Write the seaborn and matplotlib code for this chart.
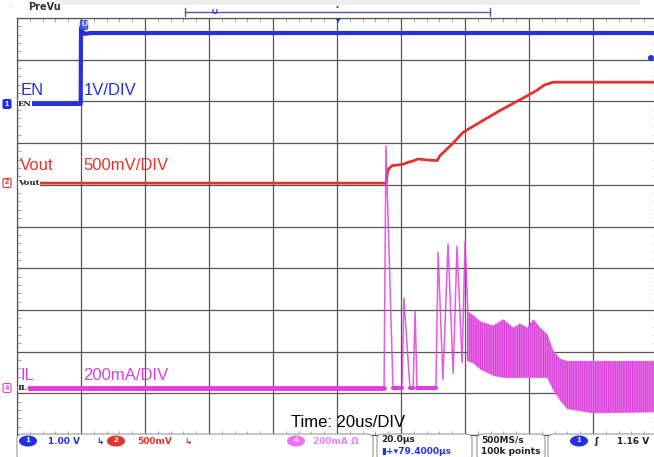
import matplotlib.pyplot as plt
import pandas as pd
import seaborn as sns
from matplotlib.patches import FancyBboxPatch, Ellipse, Rectangle

# Scope capture: EN, Vout and IL at start-up, 20us/DIV
# time in us, EN in V, Vout in V, IL in A
en_t = [0, 19.9, 20.0, 20.3, 21.0, 23.0, 200]
en_v = [0, 0, 1.82, 1.75, 1.68, 1.70, 1.70]

vout_t = [0, 115.3, 115.9, 117.2, 119.7, 120.9, 122.2, 124.1, 125.3, 127.5,
          131.3, 132.2, 134.1, 136.3, 139.4, 144.7, 150.9, 157.2, 161.9,
          165.0, 167.5, 175.9, 200]
vout_v = [0, 0, 0.16, 0.21, 0.22, 0.23, 0.25, 0.27, 0.29, 0.28,
          0.27, 0.33, 0.40, 0.48, 0.61, 0.73, 0.87, 1.00, 1.10,
          1.18, 1.21, 1.21, 1.21]

il_t = [0, 114.7, 115.3, 117.5, 120.3, 120.9, 122.8, 123.8, 124.4, 125.0,
        130.9, 131.6, 133.1, 134.7, 136.3, 137.5, 139.1, 140.0, 140.9]
il_a = [0, 0, 1.16, 0, 0, 0.43, 0, 0, 0.37, 0,
        0, 0.65, 0.04, 0.69, 0.07, 0.68, 0.12, 0.70, 0.37]

# switching band of IL (envelope of the ripple)
band_t = [140.6, 142.5, 144.7, 148.7, 151.9, 155.0, 157.2, 159.4, 161.3,
          163.4, 165.6, 167.5, 169.7, 171.9, 180.0, 200.0]
band_hi = [0.37, 0.35, 0.32, 0.30, 0.33, 0.29, 0.31, 0.29, 0.33,
           0.29, 0.26, 0.18, 0.14, 0.13, 0.13, 0.13]
band_lo = [0.13, 0.12, 0.09, 0.06, 0.05, 0.05, 0.05, 0.05, 0.05,
           0.05, 0.05, -0.01, -0.06, -0.10, -0.12, -0.115]

# channel settings: (zero position in divisions, units per division)
channels = {
    "EN": (7.94, 1.0),
    "Vout": (6.04, 0.5),
    "IL": (1.13, 0.2),
}

BLUE = "#2430e0"
RED = "#e4332f"
MAG = "#e03ee0"
GRID = "#555555"

W, H = 654, 457


def fx(x):
    return x / W


def fy(y):
    return 1 - y / H


def to_div(name, vals):
    off, scale = channels[name]
    return [off + v / scale for v in vals]


sns.set_style("white")
plt.rcParams["font.family"] = ["Liberation Sans", "DejaVu Sans"]
plt.rcParams["hatch.linewidth"] = 0.7

fig = plt.figure(figsize=(6.54, 4.57), dpi=100)
ax = fig.add_axes([fx(17), fy(435), 640 / W, 417 / H])

df_en = pd.DataFrame({"t": en_t, "div": to_div("EN", en_v)})
df_vout = pd.DataFrame({"t": vout_t, "div": to_div("Vout", vout_v)})
df_il = pd.DataFrame({"t": il_t, "div": to_div("IL", il_a)})

sns.lineplot(data=df_en, x="t", y="div", ax=ax, color=BLUE, lw=3.0,
             sort=False, estimator=None, zorder=4)
sns.lineplot(data=df_vout, x="t", y="div", ax=ax, color=RED, lw=2.0,
             sort=False, estimator=None, zorder=4)

ax.fill_between(band_t, to_div("IL", band_lo), to_div("IL", band_hi),
                color="#ee7aee", linewidth=0, zorder=3)
ax.fill_between(band_t, to_div("IL", band_lo), to_div("IL", band_hi),
                facecolor="none", edgecolor="#d43ad4",
                hatch="|||||||||", linewidth=0, zorder=3)
sns.lineplot(data=df_il, x="t", y="div", ax=ax, color=MAG, lw=1.1,
             sort=False, estimator=None, zorder=4, alpha=0.85)
# thick flat baseline before switching starts
base = df_il[df_il["t"] <= 114.7]
ax.plot(base["t"], base["div"], color=MAG, lw=3.5, zorder=4)
for a, b in [(117.5, 120.3), (122.8, 123.8), (125.0, 130.9)]:
    ax.plot([a, b], to_div("IL", [0, 0]), color=MAG, lw=3.0, zorder=4)

ax.set_xlim(0, 200)
ax.set_ylim(0, 10)
ax.set_xticks(range(0, 201, 20))
ax.set_yticks(range(11))
ax.set_xticks([x * 4 for x in range(51)], minor=True)
ax.set_yticks([y * 0.2 for y in range(51)], minor=True)
ax.grid(True, which="major", color=GRID, lw=0.9)
ax.tick_params(which="major", length=0, labelbottom=False, labelleft=False)
ax.tick_params(which="minor", direction="in", length=3, color="#999999",
               top=True, bottom=True, left=True, right=True,
               labelbottom=False, labelleft=False)
ax.set_xlabel("")
ax.set_ylabel("")
for s in ax.spines.values():
    s.set_color(GRID)
    s.set_linewidth(0.9)

# channel captions
big = dict(fontsize=12, va="center", ha="left", zorder=6)
ax.text(1.0, 8.25, "EN", color=BLUE, **big)
ax.text(20.8, 8.25, "1V/DIV", color=BLUE, **big)
ax.text(1.0, 6.47, "Vout", color=RED, **big)
ax.text(20.8, 6.47, "500mV/DIV", color=RED, **big)
ax.text(1.0, 1.43, "IL", color=MAG, **big)
ax.text(20.8, 1.43, "200mA/DIV", color=MAG, **big)
ax.text(85.5, 0.3, "Time: 20us/DIV", color="black", fontsize=12,
        va="center", ha="left", zorder=6)

# small trace labels at left edge
small = dict(fontsize=6, va="center", ha="left", color="#222222", zorder=7,
             fontweight="bold", family="DejaVu Serif",
             bbox=dict(boxstyle="square,pad=0.05", fc="white", ec="none"))
ax.text(0.3, 7.94, "EN", **small)
ax.text(0.3, 6.04, "Vout", **small)
ax.text(0.3, 1.13, "IL", **small)

# left channel markers
for y, c, n, filled in [(104, BLUE, "1", True), (183, RED, "2", False),
                        (388, MAG, "4", False)]:
    fig.patches.append(FancyBboxPatch(
        (fx(3), fy(y + 4.5)), 8 / W, 9 / H,
        boxstyle="round,pad=0,rounding_size=0.003",
        transform=fig.transFigure, fc=c if filled else "white",
        ec=c, lw=0.8))
    fig.text(fx(7), fy(y), n, color="white" if filled else c, fontsize=5.5,
             ha="center", va="center", fontweight="bold")

# top: PreVu strip
fig.patches.append(Rectangle((fx(55), fy(5)), 585 / W, 5 / H,
                             transform=fig.transFigure, fc="#eeeeee",
                             ec="none"))
fig.text(fx(28), fy(7), "PreVu", fontsize=7, color="#333333",
         fontweight="bold", va="center", ha="left", family="DejaVu Sans")
fig.text(fx(10), fy(7), "\u00b7", fontsize=7, color="#999999",
         va="center", ha="center")
fig.lines.append(plt.Line2D([fx(185), fx(490)], [fy(12), fy(12)],
                            transform=fig.transFigure, color="#4a5aa8",
                            lw=1.0))
for xx in (185, 490):
    fig.lines.append(plt.Line2D([fx(xx), fx(xx)], [fy(8), fy(16)],
                                transform=fig.transFigure, color="#4a5aa8",
                                lw=1.0))
fig.text(fx(214), fy(13), "U", fontsize=6, color=BLUE, ha="center",
         va="center", fontweight="bold")
fig.text(fx(337), fy(8), "\u2022", fontsize=6, color=BLUE, ha="center",
         va="center")
fig.text(fx(337), fy(21), "\u25bc", fontsize=6, color="#2a3a9a",
         ha="center", va="center")
fig.text(fx(84), fy(25), "U", fontsize=6, color="white", ha="center",
         va="center", fontweight="bold",
         bbox=dict(boxstyle="round,pad=0.1", fc="#4a62e8", ec=BLUE, lw=0.5))
fig.patches.append(Ellipse((fx(651), fy(58)), 6 / W, 6 / H,
                           transform=fig.transFigure, fc=BLUE, ec="none"))

# bottom status bar
for x0, x1 in [(17, 373), (377, 472), (477, 545), (548, 660)]:
    fig.patches.append(FancyBboxPatch(
        (fx(x0), fy(460)), (x1 - x0) / W, 26 / H,
        boxstyle="round,pad=0,rounding_size=0.01",
        transform=fig.transFigure, fc="white", ec="#9a9a9a", lw=0.8))

st = dict(fontsize=6.5, va="center", ha="left", fontweight="bold",
          family="DejaVu Sans")
for xc, c, n in [(28, BLUE, "1"), (116, RED, "2"), (296, "#f070f0", "4"),
                 (579, BLUE, "1")]:
    fig.patches.append(Ellipse((fx(xc), fy(441)), 18 / W, 11 / H,
                               transform=fig.transFigure, fc=c, ec="none"))
    fig.text(fx(xc), fy(441), n, color="white", fontsize=6,
             ha="center", va="center", fontweight="bold")
fig.text(fx(48), fy(441), "1.00 V", color=BLUE, **st)
fig.text(fx(96), fy(441), "\u21b3", color=BLUE, **st)
fig.text(fx(137), fy(441), "500mV", color=RED, **st)
fig.text(fx(184), fy(441), "\u21b3", color=RED, **st)
fig.text(fx(313), fy(441), "200mA \u03a9", color="#f080f0", **st)
fig.text(fx(381), fy(440), "20.0\u00b5s", color="#222222", **st)
fig.text(fx(381), fy(452), "\u25ae+\u25be79.4000\u00b5s", color=BLUE, **st)
fig.text(fx(481), fy(440), "500MS/s", color="#222222", **st)
fig.text(fx(481), fy(452), "100k points", color="#222222", **st)
fig.text(fx(594), fy(441), "\u0283", color="#222222", **st)
fig.text(fx(617), fy(441), "1.16 V", color="#222222", **st)

fig.savefig("out.png", dpi=100)
